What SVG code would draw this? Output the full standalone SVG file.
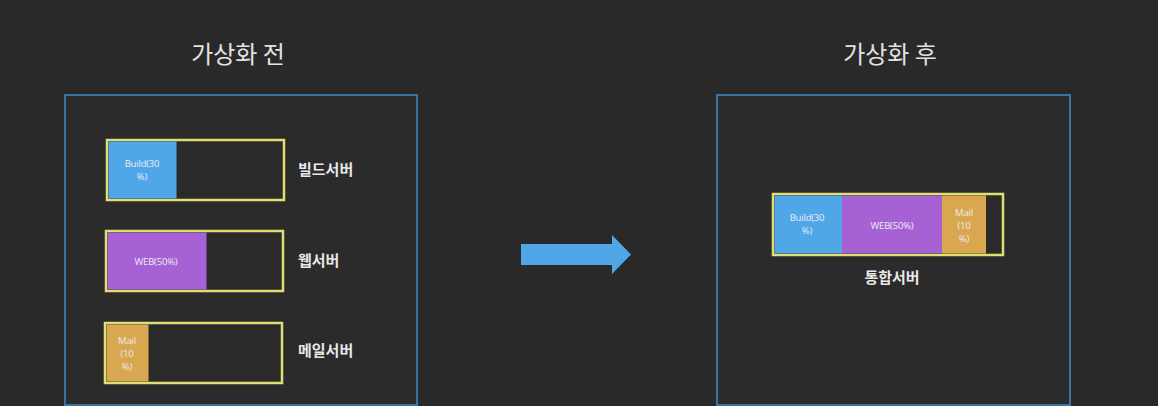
<svg xmlns="http://www.w3.org/2000/svg" width="1158" height="406" viewBox="0 0 1158 406">
<style>
.bg{fill:#292929}
.panel{fill:#2b2b2b;stroke:#3a72a4;stroke-width:2}
.bar{fill:#2a2a2a;stroke:#dede72;stroke-width:2.5}
.blue{fill:#4fa7e8}
.purple{fill:#a662d4}
.orange{fill:#d9a74f}
.title{font-family:"Noto Sans CJK KR","Noto Sans",sans-serif;font-size:24px;fill:#e2e2e2;text-anchor:middle}
.lbl{font-family:"Noto Sans CJK KR","Noto Sans",sans-serif;font-size:15px;font-weight:bold;fill:#e8e8e8}
.in{font-family:"Open Sans","Noto Sans",sans-serif;font-size:9.5px;fill:#ececf2;text-anchor:middle;letter-spacing:-0.2px}
</style>
<rect class="bg" x="0" y="0" width="1158" height="406"/>
<g id="title-before"><text class="title" x="238" y="63">가상화 전</text></g>
<g id="title-after"><text class="title" x="890" y="63">가상화 후</text></g>
<g id="panel-before"><rect class="panel" x="65" y="95" width="352" height="310"/></g>
<g id="panel-after"><rect class="panel" x="717" y="95" width="353" height="310"/></g>
<g id="build-server">
<rect class="bar" x="107" y="140" width="177" height="60"/>
<rect class="blue" x="108.5" y="141.5" width="68" height="57"/>
<text class="in" x="142" y="167">Build(30</text>
<text class="in" x="142" y="180">%)</text>
<text class="lbl" x="298" y="175">빌드서버</text>
</g>
<g id="web-server">
<rect class="bar" x="106" y="231" width="177" height="60"/>
<rect class="purple" x="107.5" y="232.5" width="99" height="57"/>
<text class="in" x="156" y="264.5">WEB(50%)</text>
<text class="lbl" x="298" y="266">웹서버</text>
</g>
<g id="mail-server">
<rect class="bar" x="105" y="323" width="177" height="60"/>
<rect class="orange" x="106.5" y="324.5" width="42" height="57"/>
<text class="in" x="127" y="343.5">Mail</text>
<text class="in" x="127" y="356.5">(10</text>
<text class="in" x="127" y="369.5">%)</text>
<text class="lbl" x="298" y="356">메일서버</text>
</g>
<g id="integrated-server">
<rect class="bar" x="773" y="194" width="230" height="61"/>
<rect class="blue" x="774.5" y="195.5" width="67.5" height="58"/>
<rect class="purple" x="842" y="195.5" width="100" height="58"/>
<rect class="orange" x="942" y="195.5" width="44" height="58"/>
<text class="in" x="807" y="221">Build(30</text>
<text class="in" x="807" y="234">%)</text>
<text class="in" x="892" y="228.5">WEB(50%)</text>
<text class="in" x="964" y="215.5">Mail</text>
<text class="in" x="964" y="228.5">(10</text>
<text class="in" x="964" y="241.5">%)</text>
<text class="lbl" x="892" y="283" text-anchor="middle">통합서버</text>
</g>
<g id="connectors">
<path d="M521 244 L612 244 L612 235 L631 254.5 L612 274 L612 265 L521 265 Z" fill="#4fa7e8"/>
</g>
</svg>
